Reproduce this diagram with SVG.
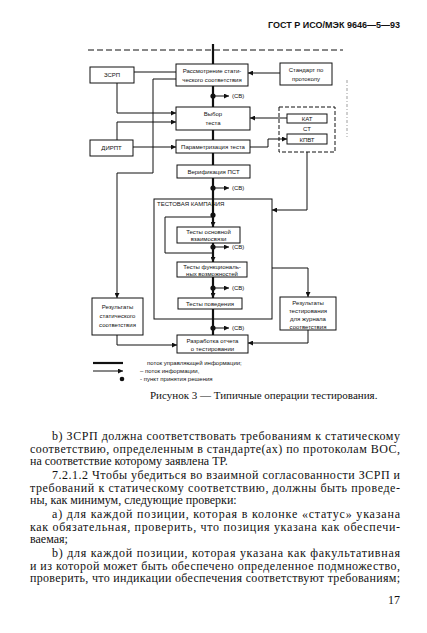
<svg xmlns="http://www.w3.org/2000/svg" width="427" height="633" viewBox="0 0 427 633">
<defs>
<style>
.bx{fill:#fff;stroke:#111;stroke-width:1}
.t{font-family:"Liberation Sans",Arial,sans-serif;font-size:6px;fill:#111}
.tc{font-family:"Liberation Sans",Arial,sans-serif;font-size:6px;fill:#111;text-anchor:middle}
.thick{stroke:#111;stroke-width:2.2;fill:none}
.thin{stroke:#111;stroke-width:1;fill:none}
.info{stroke:#111;stroke-width:1;fill:none;marker-end:url(#ah)}
.body{font-family:"Liberation Serif","Times New Roman",serif;font-size:12px;fill:#111}
</style>
<marker id="ah" viewBox="0 0 10 10" refX="10" refY="5" markerWidth="7" markerHeight="5" orient="auto" markerUnits="userSpaceOnUse">
<path d="M0,0 L10,5 L0,10 z" fill="#111"/>
</marker>
<marker id="ahd" viewBox="0 0 10 10" refX="10" refY="5" markerWidth="5" markerHeight="4" orient="auto" markerUnits="userSpaceOnUse">
<path d="M0,0 L10,5 L0,10 z" fill="#111"/>
</marker>
</defs>
<rect width="427" height="633" fill="#fff"/>
<text x="400" y="28" font-family="Liberation Sans,Arial,sans-serif" font-size="9" font-weight="bold" text-anchor="end" fill="#111">ГОСТ Р ИСО/МЭК 9646—5—93</text>
<line x1="88" y1="50" x2="343" y2="50" stroke="#111" stroke-width="1" stroke-dasharray="6,3"/>
<line x1="347" y1="80" x2="347" y2="137" stroke="#777" stroke-width="0.7" stroke-dasharray="3,2,1,2"/>

<g id="connectors">
<line class="thick" x1="213" y1="44" x2="213" y2="335"/>
<path class="thin" d="M213,217 H165 V253 H213"/>
<line class="info" x1="213" y1="221" x2="213" y2="227" marker-end="url(#ahd)"/>
<line class="info" x1="213" y1="256" x2="213" y2="262" marker-end="url(#ahd)"/>
<line class="info" x1="213" y1="292" x2="213" y2="298" marker-end="url(#ahd)"/>
<path class="thin" d="M134,72 H176"/>
<path class="info" d="M280,73 H248"/>
<path class="info" d="M117,83 V113 H176"/>
<path class="info" d="M117,140 V122 H176"/>
<path class="info" d="M287,118 H250"/>
<path class="info" d="M133,147 H176"/>
<path class="info" d="M250,147 H268 V139 H287"/>
<path class="info" d="M176,79 H153 V173 H117 V298"/>
<path class="info" d="M117,335 V345 H177"/>
<path class="info" d="M307,152 V210 H272"/>
<path class="info" d="M272,268 H308 V297"/>
<path class="info" d="M308,330 V343 H248"/>
<g id="decisions">
<circle cx="213" cy="96" r="2.6" fill="#111"/><path class="info" d="M213,96 H229"/><text class="t" x="232" y="98">(СВ)</text>
<circle cx="213" cy="188" r="2.6" fill="#111"/><path class="info" d="M213,188 H229"/><text class="t" x="232" y="190">(СВ)</text>
<circle cx="213" cy="215" r="2.6" fill="#111"/>
<circle cx="213" cy="247" r="2.6" fill="#111"/><path class="info" d="M213,247 H229"/><text class="t" x="232" y="249">(СВ)</text>
<circle cx="213" cy="288" r="2.6" fill="#111"/><path class="info" d="M213,288 H229"/><text class="t" x="232" y="290">(СВ)</text>
<circle cx="213" cy="328" r="2.6" fill="#111"/><path class="info" d="M213,328 H229"/><text class="t" x="232" y="330">(СВ)</text>
</g>
</g>

<g id="zsrp"><rect class="bx" x="90" y="67" width="44" height="16"/><text class="tc" x="112" y="77">ЗСРП</text></g>
<g id="dirpt"><rect class="bx" x="90" y="140" width="43" height="16"/><text class="tc" x="111.5" y="150">ДИРПТ</text></g>
<g id="rassm"><rect class="bx" x="176" y="64" width="72" height="22"/><text class="tc" x="212" y="73">Рассмотрение стати-</text><text class="tc" x="212" y="82">ческого соответствия</text></g>
<g id="standart"><rect class="bx" x="280" y="63" width="52" height="22"/><text class="tc" x="306" y="72">Стандарт по</text><text class="tc" x="306" y="81">протоколу</text></g>
<g id="vybor"><rect class="bx" x="176" y="107" width="74" height="23"/><text class="tc" x="213" y="116">Выбор</text><text class="tc" x="213" y="125">теста</text></g>
<g id="kat-group"><rect x="279" y="107" width="56" height="45" fill="none" stroke="#111" stroke-width="1" stroke-dasharray="4,2"/>
<rect class="bx" x="287" y="114" width="40" height="9"/><text class="tc" x="307" y="121">КАТ</text>
<text class="tc" x="307" y="131">СТ</text>
<rect class="bx" x="287" y="134" width="40" height="10"/><text class="tc" x="307" y="141.5">КПВТ</text></g>
<g id="param"><rect class="bx" x="176" y="140" width="74" height="13"/><text class="tc" x="213" y="149" font-size="5.6">Параметризация теста</text></g>
<g id="verif"><rect class="bx" x="177" y="165" width="73" height="13"/><text class="tc" x="213.5" y="174">Верификация ПСТ</text></g>
<g id="campaign"><rect x="154" y="199" width="118" height="120" fill="none" stroke="#111" stroke-width="1"/><text class="t" x="157" y="206">ТЕСТОВАЯ КАМПАНИЯ</text></g>
<g id="t-osn"><rect class="bx" x="177" y="227" width="63" height="16"/><text class="tc" x="208.5" y="234">Тесты основной</text><text class="tc" x="208.5" y="241">взаимосвязи</text></g>
<g id="t-func"><rect class="bx" x="177" y="262" width="70" height="15"/><text class="tc" x="212" y="269">Тесты функциональ-</text><text class="tc" x="212" y="275.5">ных возможностей</text></g>
<g id="t-pov"><rect class="bx" x="178" y="298" width="64" height="11"/><text class="tc" x="210" y="306">Тесты поведения</text></g>
<g id="res-stat"><rect class="bx" x="92" y="298" width="51" height="37"/><text class="tc" x="117.5" y="309">Результаты</text><text class="tc" x="117.5" y="318">статического</text><text class="tc" x="117.5" y="327">соответствия</text></g>
<g id="res-test"><rect class="bx" x="280" y="297" width="56" height="33"/><text class="tc" x="308" y="305">Результаты</text><text class="tc" x="308" y="313">тестирования</text><text class="tc" x="308" y="321">для журнала</text><text class="tc" x="308" y="328.5">соответствия</text></g>
<g id="report"><rect class="bx" x="177" y="335" width="71" height="18"/><text class="tc" x="212.5" y="342.5">Разработка отчета</text><text class="tc" x="212.5" y="350.5">о тестировании</text></g>

<g id="legend">
<line x1="93" y1="363" x2="123" y2="363" stroke="#111" stroke-width="2.2"/>
<path class="info" d="M93,371 H123"/>
<circle cx="122" cy="379" r="2.3" fill="#111"/>
<text class="t" x="147" y="365">поток управляющей информации;</text>
<text class="t" x="140" y="373">– поток информации,</text>
<text class="t" x="140" y="381">- пункт принятия решения</text>
</g>

<text x="150" y="399" font-family="Liberation Serif,Times New Roman,serif" font-size="11" fill="#111">Рисунок 3 — Типичные операции тестирования.</text>

<text class="body" x="52" y="440" textLength="348" lengthAdjust="spacing">b) ЗСРП должна соответствовать требованиям к статическому</text>
<text class="body" x="30" y="452.5" textLength="370" lengthAdjust="spacing">соответствию, определенным в стандарте(ах) по протоколам ВОС,</text>
<text class="body" x="30" y="465">на соответствие которому заявлена ТР.</text>
<text class="body" x="52" y="479" textLength="348" lengthAdjust="spacing">7.2.1.2 Чтобы убедиться во взаимной  согласованности ЗСРП и</text>
<text class="body" x="30" y="491.5" textLength="370" lengthAdjust="spacing">требований к статическому  соответствию, должны быть проведе-</text>
<text class="body" x="30" y="504">ны, как минимум, следующие проверки:</text>
<text class="body" x="52" y="518" textLength="348" lengthAdjust="spacing">а) для каждой позиции, которая в колонке «статус» указана</text>
<text class="body" x="30" y="530.5" textLength="370" lengthAdjust="spacing">как обязательная, проверить, что позиция указана  как обеспечи-</text>
<text class="body" x="30" y="543">ваемая;</text>
<text class="body" x="52" y="557" textLength="348" lengthAdjust="spacing">b) для каждой позиции, которая  указана как факультативная</text>
<text class="body" x="30" y="569.5" textLength="370" lengthAdjust="spacing">и из которой может быть обеспечено определенное подмножество,</text>
<text class="body" x="30" y="582" textLength="370" lengthAdjust="spacing">проверить, что индикации обеспечения соответствуют требованиям;</text>
<text class="body" x="400" y="604" text-anchor="end">17</text>
</svg>
